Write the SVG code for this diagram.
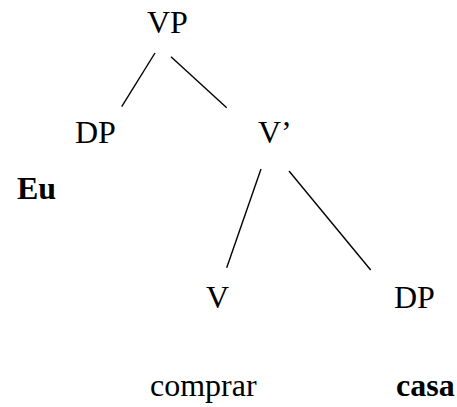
<svg xmlns="http://www.w3.org/2000/svg" width="457" height="407" viewBox="0 0 457 407">
<style>
text{font-family:"Liberation Serif","Times New Roman",serif;font-size:32px;fill:#000}
.b{font-weight:bold}
line{stroke:#000;stroke-width:1.4}
</style>
<rect width="457" height="407" fill="#fff"/>
<g id="connectors">
<line x1="155" y1="53" x2="121.7" y2="106.7"/>
<line x1="171" y1="56.7" x2="226.7" y2="107.7"/>
<line x1="261" y1="169" x2="226.7" y2="267.7"/>
<line x1="289" y1="171" x2="370.7" y2="270"/>
</g>
<g id="VP"><text x="147" y="33">VP</text></g>
<g id="DP1"><text x="75" y="143">DP</text></g>
<g id="Vbar"><text x="258" y="143">V’</text></g>
<g id="Eu"><text class="b" x="17" y="199">Eu</text></g>
<g id="V"><text x="206" y="308">V</text></g>
<g id="DP2"><text x="394" y="308">DP</text></g>
<g id="comprar"><text x="150" y="396">comprar</text></g>
<g id="casa"><text class="b" x="396" y="396">casa</text></g>
</svg>
